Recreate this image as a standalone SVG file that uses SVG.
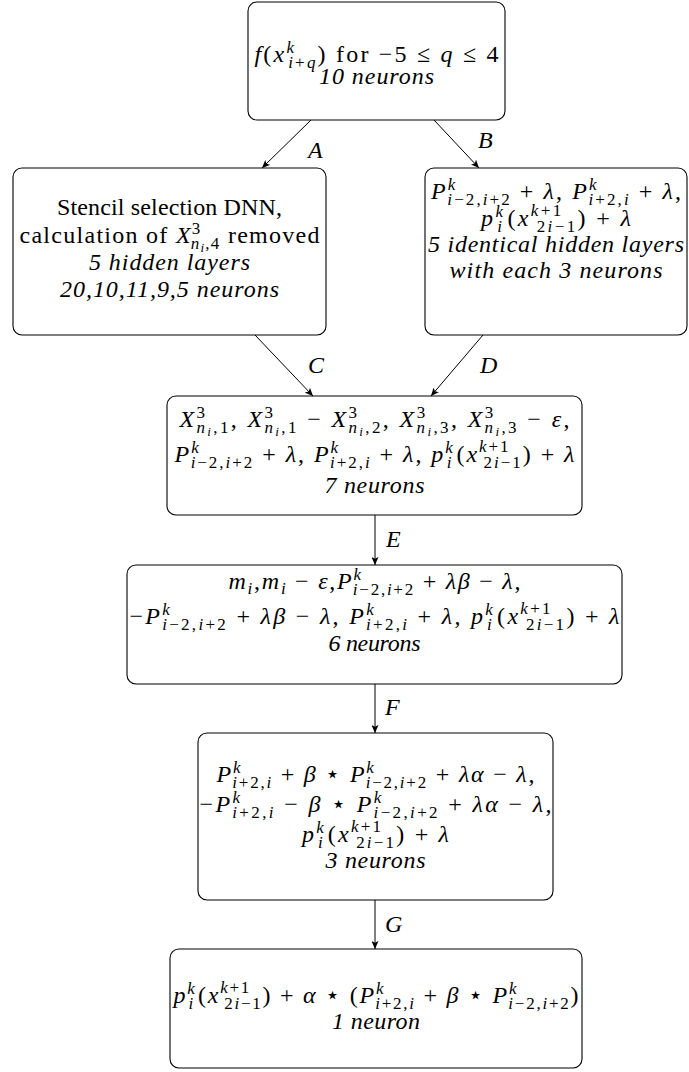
<svg xmlns="http://www.w3.org/2000/svg" width="689" height="1072" viewBox="0 0 689 1072" font-family="Liberation Serif, DejaVu Serif, Times New Roman, serif">
<style>
.box{fill:#fff;stroke:#000;stroke-width:1.1}
.t{font-family:'Liberation Serif','DejaVu Serif',serif;font-size:24px;fill:#000;text-anchor:middle}
.lb{font-family:'Liberation Serif','DejaVu Serif',serif;font-size:24px;fill:#000;font-style:italic}
.i{font-style:italic}
.s{font-size:17px}
.ss{font-size:13px}
.cn{stroke:#000;stroke-width:1;fill:none}
</style>
<defs>
<marker id="ah" markerUnits="userSpaceOnUse" markerWidth="9" markerHeight="7" refX="8" refY="3.5" orient="auto">
<path d="M0,0 L8,3.5 L0,7 L1.8,3.5 z" fill="#000"/>
</marker>
</defs>
<rect width="689" height="1072" fill="#fff"/>
<g id="connectors">
<line class="cn" x1="311" y1="120" x2="262" y2="168" marker-end="url(#ah)"/>
<line class="cn" x1="434" y1="120" x2="479" y2="168" marker-end="url(#ah)"/>
<line class="cn" x1="255" y1="335" x2="313" y2="396" marker-end="url(#ah)"/>
<line class="cn" x1="483" y1="335" x2="431" y2="396" marker-end="url(#ah)"/>
<line class="cn" x1="375" y1="515" x2="375" y2="565" marker-end="url(#ah)"/>
<line class="cn" x1="375" y1="684" x2="375" y2="733" marker-end="url(#ah)"/>
<line class="cn" x1="375" y1="900" x2="375" y2="949" marker-end="url(#ah)"/>
<text class="lb" x="308" y="158">A</text>
<text class="lb" x="478" y="148">B</text>
<text class="lb" x="308" y="373">C</text>
<text class="lb" x="480" y="373">D</text>
<text class="lb" x="386" y="547">E</text>
<text class="lb" x="385" y="715">F</text>
<text class="lb" x="385" y="932">G</text>
</g>
<g id="input">
<rect class="box" x="248" y="2" width="257" height="118" rx="9"/>
<text class="t" x="376.5" y="62" textLength="244" lengthAdjust="spacing"><tspan class="i">f</tspan>(<tspan class="i">x</tspan><tspan class="s i" dy="-9">k</tspan><tspan class="s i" dx="-8" dy="15">i</tspan><tspan class="s">+</tspan><tspan class="s i">q</tspan><tspan dy="-6">) for −5 ≤ </tspan><tspan class="i">q</tspan> ≤ 4</text>
<text class="t i" x="376.5" y="84" textLength="115" lengthAdjust="spacing">10 neurons</text>
</g>
<g id="nodeA">
<rect class="box" x="13" y="168" width="313" height="167" rx="9"/>
<text class="t" x="169.5" y="215" textLength="225" lengthAdjust="spacing">Stencil selection DNN,</text>
<text class="t" x="169.5" y="243" textLength="300" lengthAdjust="spacing">calculation of <tspan class="i">X</tspan><tspan class="s" dy="-9">3</tspan><tspan class="s i" dx="-11" dy="15">n</tspan><tspan class="ss i" dy="3">i</tspan><tspan class="s" dy="-3">,4</tspan><tspan dy="-6"> removed</tspan></text>
<text class="t i" x="169.5" y="270" textLength="161" lengthAdjust="spacing">5 hidden layers</text>
<text class="t i" x="169.5" y="297" textLength="219" lengthAdjust="spacing">20,10,11,9,5 neurons</text>
</g>
<g id="nodeB">
<rect class="box" x="425" y="168" width="262" height="167" rx="9"/>
<text class="t" x="556" y="199" textLength="250" lengthAdjust="spacing"><tspan class="i">P</tspan><tspan class="s i" dy="-9">k</tspan><tspan class="s i" dx="-10" dy="15">i</tspan><tspan class="s">−2,</tspan><tspan class="s i">i</tspan><tspan class="s">+2</tspan><tspan dy="-6"> + </tspan><tspan class="i">λ</tspan>, <tspan class="i">P</tspan><tspan class="s i" dy="-9">k</tspan><tspan class="s i" dx="-10" dy="15">i</tspan><tspan class="s">+2,</tspan><tspan class="s i">i</tspan><tspan dy="-6"> + </tspan><tspan class="i">λ</tspan>,</text>
<text class="t" x="556" y="226" textLength="150" lengthAdjust="spacing"><tspan class="i">p</tspan><tspan class="s i" dy="-9">k</tspan><tspan class="s i" dx="-8" dy="15">i</tspan><tspan dx="3" dy="-6">(</tspan><tspan class="i">x</tspan><tspan class="s i" dy="-10">k</tspan><tspan class="s">+1</tspan><tspan class="s" dx="-27" dy="16">2</tspan><tspan class="s i">i</tspan><tspan class="s">−1</tspan><tspan dy="-6">) + </tspan><tspan class="i">λ</tspan></text>
<text class="t i" x="556" y="252" textLength="256" lengthAdjust="spacing">5 identical hidden layers</text>
<text class="t i" x="556" y="278" textLength="213" lengthAdjust="spacing">with each 3 neurons</text>
</g>
<g id="nodeCD">
<rect class="box" x="167" y="396" width="415" height="119" rx="9"/>
<text class="t" x="374.5" y="427" textLength="390" lengthAdjust="spacing"><tspan class="i">X</tspan><tspan class="s" dy="-9">3</tspan><tspan class="s i" dx="-11" dy="15">n</tspan><tspan class="ss i" dy="3">i</tspan><tspan class="s" dy="-3">,1</tspan><tspan dy="-6">, </tspan><tspan class="i">X</tspan><tspan class="s" dy="-9">3</tspan><tspan class="s i" dx="-11" dy="15">n</tspan><tspan class="ss i" dy="3">i</tspan><tspan class="s" dy="-3">,1</tspan><tspan dy="-6"> − </tspan><tspan class="i">X</tspan><tspan class="s" dy="-9">3</tspan><tspan class="s i" dx="-11" dy="15">n</tspan><tspan class="ss i" dy="3">i</tspan><tspan class="s" dy="-3">,2</tspan><tspan dy="-6">, </tspan><tspan class="i">X</tspan><tspan class="s" dy="-9">3</tspan><tspan class="s i" dx="-11" dy="15">n</tspan><tspan class="ss i" dy="3">i</tspan><tspan class="s" dy="-3">,3</tspan><tspan dy="-6">, </tspan><tspan class="i">X</tspan><tspan class="s" dy="-9">3</tspan><tspan class="s i" dx="-11" dy="15">n</tspan><tspan class="ss i" dy="3">i</tspan><tspan class="s" dy="-3">,3</tspan><tspan dy="-6"> − </tspan><tspan class="i">ε</tspan>,</text>
<text class="t" x="374.5" y="462" textLength="400" lengthAdjust="spacing"><tspan class="i">P</tspan><tspan class="s i" dy="-9">k</tspan><tspan class="s i" dx="-10" dy="15">i</tspan><tspan class="s">−2,</tspan><tspan class="s i">i</tspan><tspan class="s">+2</tspan><tspan dy="-6"> + </tspan><tspan class="i">λ</tspan>, <tspan class="i">P</tspan><tspan class="s i" dy="-9">k</tspan><tspan class="s i" dx="-10" dy="15">i</tspan><tspan class="s">+2,</tspan><tspan class="s i">i</tspan><tspan dy="-6"> + </tspan><tspan class="i">λ</tspan>, <tspan class="i">p</tspan><tspan class="s i" dy="-9">k</tspan><tspan class="s i" dx="-8" dy="15">i</tspan><tspan dx="3" dy="-6">(</tspan><tspan class="i">x</tspan><tspan class="s i" dy="-10">k</tspan><tspan class="s">+1</tspan><tspan class="s" dx="-27" dy="16">2</tspan><tspan class="s i">i</tspan><tspan class="s">−1</tspan><tspan dy="-6">) + </tspan><tspan class="i">λ</tspan></text>
<text class="t i" x="374.5" y="493" textLength="100" lengthAdjust="spacing">7 neurons</text>
</g>
<g id="nodeE">
<rect class="box" x="127" y="565" width="495" height="119" rx="9"/>
<text class="t" x="374.5" y="589" textLength="292" lengthAdjust="spacing"><tspan class="i">m</tspan><tspan class="s i" dy="5">i</tspan><tspan dy="-5">,</tspan><tspan class="i">m</tspan><tspan class="s i" dy="5">i</tspan><tspan dy="-5"> − </tspan><tspan class="i">ε</tspan>,<tspan class="i">P</tspan><tspan class="s i" dy="-9">k</tspan><tspan class="s i" dx="-10" dy="15">i</tspan><tspan class="s">−2,</tspan><tspan class="s i">i</tspan><tspan class="s">+2</tspan><tspan dy="-6"> + </tspan><tspan class="i">λβ</tspan> − <tspan class="i">λ</tspan>,</text>
<text class="t" x="374.5" y="624" textLength="490" lengthAdjust="spacing">−<tspan class="i">P</tspan><tspan class="s i" dy="-9">k</tspan><tspan class="s i" dx="-10" dy="15">i</tspan><tspan class="s">−2,</tspan><tspan class="s i">i</tspan><tspan class="s">+2</tspan><tspan dy="-6"> + </tspan><tspan class="i">λβ</tspan> − <tspan class="i">λ</tspan>, <tspan class="i">P</tspan><tspan class="s i" dy="-9">k</tspan><tspan class="s i" dx="-10" dy="15">i</tspan><tspan class="s">+2,</tspan><tspan class="s i">i</tspan><tspan dy="-6"> + </tspan><tspan class="i">λ</tspan>, <tspan class="i">p</tspan><tspan class="s i" dy="-9">k</tspan><tspan class="s i" dx="-8" dy="15">i</tspan><tspan dx="3" dy="-6">(</tspan><tspan class="i">x</tspan><tspan class="s i" dy="-10">k</tspan><tspan class="s">+1</tspan><tspan class="s" dx="-27" dy="16">2</tspan><tspan class="s i">i</tspan><tspan class="s">−1</tspan><tspan dy="-6">) + </tspan><tspan class="i">λ</tspan></text>
<text class="t i" x="374.5" y="651" textLength="92" lengthAdjust="spacing">6 neurons</text>
</g>
<g id="nodeF">
<rect class="box" x="198" y="733" width="355" height="167" rx="9"/>
<text class="t" x="375.5" y="782" textLength="318" lengthAdjust="spacing"><tspan class="i">P</tspan><tspan class="s i" dy="-9">k</tspan><tspan class="s i" dx="-10" dy="15">i</tspan><tspan class="s">+2,</tspan><tspan class="s i">i</tspan><tspan dy="-6"> + </tspan><tspan class="i">β</tspan> ⋆ <tspan class="i">P</tspan><tspan class="s i" dy="-9">k</tspan><tspan class="s i" dx="-10" dy="15">i</tspan><tspan class="s">−2,</tspan><tspan class="s i">i</tspan><tspan class="s">+2</tspan><tspan dy="-6"> + </tspan><tspan class="i">λα</tspan> − <tspan class="i">λ</tspan>,</text>
<text class="t" x="375.5" y="812" textLength="352" lengthAdjust="spacing">−<tspan class="i">P</tspan><tspan class="s i" dy="-9">k</tspan><tspan class="s i" dx="-10" dy="15">i</tspan><tspan class="s">+2,</tspan><tspan class="s i">i</tspan><tspan dy="-6"> − </tspan><tspan class="i">β</tspan> ⋆ <tspan class="i">P</tspan><tspan class="s i" dy="-9">k</tspan><tspan class="s i" dx="-10" dy="15">i</tspan><tspan class="s">−2,</tspan><tspan class="s i">i</tspan><tspan class="s">+2</tspan><tspan dy="-6"> + </tspan><tspan class="i">λα</tspan> − <tspan class="i">λ</tspan>,</text>
<text class="t" x="375.5" y="842" textLength="147" lengthAdjust="spacing"><tspan class="i">p</tspan><tspan class="s i" dy="-9">k</tspan><tspan class="s i" dx="-8" dy="15">i</tspan><tspan dx="3" dy="-6">(</tspan><tspan class="i">x</tspan><tspan class="s i" dy="-10">k</tspan><tspan class="s">+1</tspan><tspan class="s" dx="-27" dy="16">2</tspan><tspan class="s i">i</tspan><tspan class="s">−1</tspan><tspan dy="-6">) + </tspan><tspan class="i">λ</tspan></text>
<text class="t i" x="375.5" y="868" textLength="100" lengthAdjust="spacing">3 neurons</text>
</g>
<g id="nodeG">
<rect class="box" x="170" y="949" width="412" height="119" rx="9"/>
<text class="t" x="376" y="1003" textLength="405" lengthAdjust="spacing"><tspan class="i">p</tspan><tspan class="s i" dy="-9">k</tspan><tspan class="s i" dx="-8" dy="15">i</tspan><tspan dx="3" dy="-6">(</tspan><tspan class="i">x</tspan><tspan class="s i" dy="-10">k</tspan><tspan class="s">+1</tspan><tspan class="s" dx="-27" dy="16">2</tspan><tspan class="s i">i</tspan><tspan class="s">−1</tspan><tspan dy="-6">) + </tspan><tspan class="i">α</tspan> ⋆ (<tspan class="i">P</tspan><tspan class="s i" dy="-9">k</tspan><tspan class="s i" dx="-10" dy="15">i</tspan><tspan class="s">+2,</tspan><tspan class="s i">i</tspan><tspan dy="-6"> + </tspan><tspan class="i">β</tspan> ⋆ <tspan class="i">P</tspan><tspan class="s i" dy="-9">k</tspan><tspan class="s i" dx="-10" dy="15">i</tspan><tspan class="s">−2,</tspan><tspan class="s i">i</tspan><tspan class="s">+2</tspan><tspan dy="-6">)</tspan></text>
<text class="t i" x="376" y="1029" textLength="88" lengthAdjust="spacing">1 neuron</text>
</g>
</svg>
